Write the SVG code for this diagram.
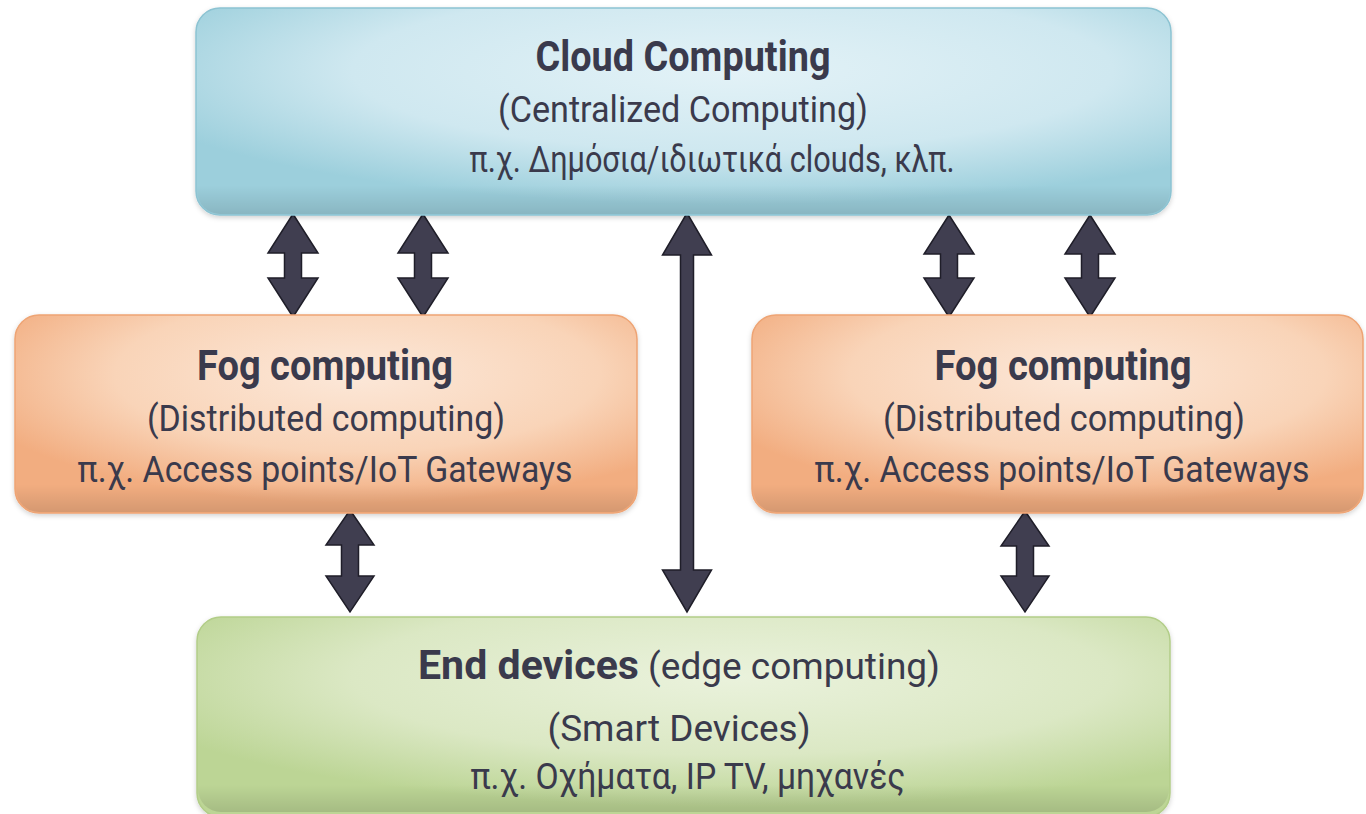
<svg xmlns="http://www.w3.org/2000/svg" width="1366" height="814" viewBox="0 0 1366 814">
  <defs>
    <radialGradient id="gCloud" cx="0.55" cy="0.3" r="0.65">
      <stop offset="0" stop-color="#e3f2f7"/>
      <stop offset="0.6" stop-color="#cfe8f0"/>
      <stop offset="1" stop-color="#9ccfdc"/>
    </radialGradient>
    <radialGradient id="gFog" cx="0.55" cy="0.3" r="0.65">
      <stop offset="0" stop-color="#fce8d9"/>
      <stop offset="0.6" stop-color="#f9d4b8"/>
      <stop offset="1" stop-color="#f2ad80"/>
    </radialGradient>
    <radialGradient id="gEnd" cx="0.55" cy="0.3" r="0.65">
      <stop offset="0" stop-color="#eaf2dc"/>
      <stop offset="0.6" stop-color="#dbe8c4"/>
      <stop offset="1" stop-color="#bcd595"/>
    </radialGradient>
    <linearGradient id="gBevel" x1="0" y1="0" x2="0" y2="1">
      <stop offset="0.86" stop-color="#000" stop-opacity="0"/>
      <stop offset="1" stop-color="#000" stop-opacity="0.12"/>
    </linearGradient>
    <filter id="shadow" x="-5%" y="-5%" width="110%" height="115%">
      <feDropShadow dx="0" dy="2" stdDeviation="2.5" flood-color="#000" flood-opacity="0.18"/>
    </filter>
  </defs>
  <style>
    .box { filter: url(#shadow); }
    .cloud { fill: url(#gCloud); stroke: #8cc3d2; stroke-width: 1.5; }
    .fog { fill: url(#gFog); stroke: #eea474; stroke-width: 1.5; }
    .end { fill: url(#gEnd); stroke: #b2cd88; stroke-width: 1.5; }
    .bevel { fill: url(#gBevel); }
    text { font-family: Roboto, "Liberation Sans", sans-serif; fill: #3a3a4c; text-anchor: middle; }
    .t { font-size: 42px; font-weight: bold; }
    .s { font-size: 36px; }
    .b { font-weight: bold; }
    .arrow { fill: #403e50; stroke: #1f1e29; stroke-width: 1.5; stroke-linejoin: miter; }
  </style>

  <rect width="1366" height="814" fill="#ffffff"/>

  <!-- connectors between the layers -->
  <g id="connectors">
    <!-- cloud to left fog -->
    <path class="arrow" d="M293,214 L318,253 L301.5,253 L301.5,278 L318,278 L293,317 L268,278 L284.5,278 L284.5,253 L268,253 Z"/>
    <path class="arrow" d="M423,214 L448,253 L431.5,253 L431.5,278 L448,278 L423,317 L398,278 L414.5,278 L414.5,253 L398,253 Z"/>
    <!-- cloud to right fog -->
    <path class="arrow" d="M949,215 L974,254 L957.5,254 L957.5,278 L974,278 L949,317 L924,278 L940.5,278 L940.5,254 L924,254 Z"/>
    <path class="arrow" d="M1090,215 L1115,254 L1098.5,254 L1098.5,278 L1115,278 L1090,317 L1065,278 L1081.5,278 L1081.5,254 L1065,254 Z"/>
    <!-- cloud to end devices -->
    <path class="arrow" d="M687,213 L711.5,255 L693.5,255 L693.5,570 L711.5,570 L687,612 L662.5,570 L680.5,570 L680.5,255 L662.5,255 Z"/>
    <!-- fog to end devices -->
    <path class="arrow" d="M350,510 L374,545 L358.5,545 L358.5,576 L374,576 L350,612 L326,576 L341.5,576 L341.5,545 L326,545 Z"/>
    <path class="arrow" d="M1025,511 L1049,546 L1033.5,546 L1033.5,576 L1049,576 L1025,612 L1001,576 L1016.5,576 L1016.5,546 L1001,546 Z"/>
  </g>

  <g id="cloud">
    <rect class="box cloud" x="196" y="8" width="975" height="207" rx="24"/>
    <rect class="bevel" x="197" y="9" width="973" height="205" rx="23"/>
    <text class="t" x="683" y="71" textLength="295" lengthAdjust="spacingAndGlyphs">Cloud Computing</text>
    <text class="s" x="683" y="122" textLength="370" lengthAdjust="spacingAndGlyphs">(Centralized Computing)</text>
    <text class="s" x="712" y="172" textLength="485" lengthAdjust="spacingAndGlyphs">π.χ. Δημόσια/ιδιωτικά clouds, κλπ.</text>
  </g>

  <g id="fog-left">
    <rect class="box fog" x="15" y="315" width="622" height="198" rx="24"/>
    <rect class="bevel" x="16" y="316" width="620" height="196" rx="23"/>
    <text class="t" x="325" y="380" textLength="256" lengthAdjust="spacingAndGlyphs">Fog computing</text>
    <text class="s" x="326" y="431" textLength="358" lengthAdjust="spacingAndGlyphs">(Distributed computing)</text>
    <text class="s" x="325" y="482" textLength="495" lengthAdjust="spacingAndGlyphs">π.χ. Access points/IoT Gateways</text>
  </g>

  <g id="fog-right">
    <rect class="box fog" x="752" y="315" width="611" height="198" rx="24"/>
    <rect class="bevel" x="753" y="316" width="609" height="196" rx="23"/>
    <text class="t" x="1063" y="380" textLength="257" lengthAdjust="spacingAndGlyphs">Fog computing</text>
    <text class="s" x="1064" y="431" textLength="362" lengthAdjust="spacingAndGlyphs">(Distributed computing)</text>
    <text class="s" x="1062" y="482" textLength="495" lengthAdjust="spacingAndGlyphs">π.χ. Access points/IoT Gateways</text>
  </g>

  <g id="end-devices">
    <rect class="box end" x="197" y="617" width="973" height="200" rx="24"/>
    <rect class="bevel" x="198" y="618" width="971" height="194" rx="23"/>
    <text class="s" x="679" y="679" textLength="522" lengthAdjust="spacingAndGlyphs"><tspan class="b" font-size="40">End devices</tspan> (edge computing)</text>
    <text class="s" x="679" y="741" textLength="263" lengthAdjust="spacingAndGlyphs">(Smart Devices)</text>
    <text class="s" x="688" y="789" textLength="435" lengthAdjust="spacingAndGlyphs">π.χ. Οχήματα, IP TV, μηχανές</text>
  </g>
</svg>
